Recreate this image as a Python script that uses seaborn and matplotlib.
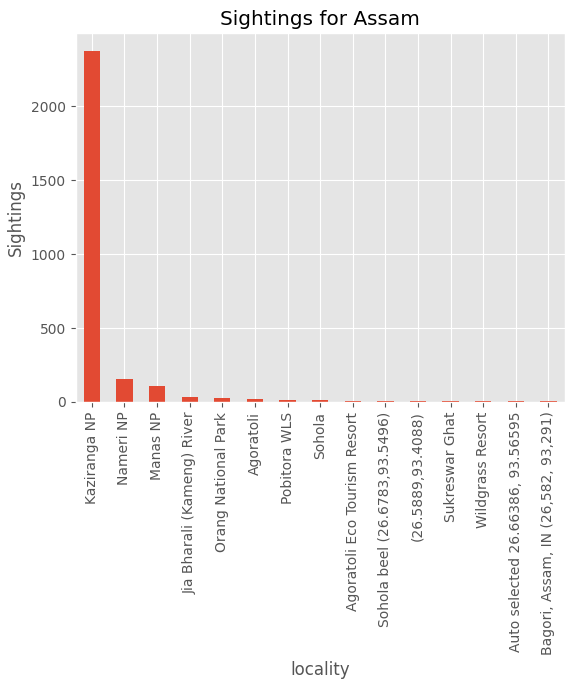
import matplotlib
matplotlib.use("Agg")
import matplotlib.pyplot as plt
import seaborn as sns
import pandas as pd

localities = ["Kaziranga NP", "Nameri NP", "Manas NP", "Jia Bharali (Kameng) River",
              "Orang National Park", "Agoratoli", "Pobitora WLS", "Sohola",
              "Agoratoli Eco Tourism Resort", "Sohola beel (26.6783,93.5496)",
              "(26.5889,93.4088)", "Sukreswar Ghat", "Wildgrass Resort",
              "Auto selected 26.66386, 93.56595", "Bagori, Assam, IN (26,582, 93,291)"]
sightings = [2378, 155, 108, 34, 27, 20, 13, 12, 4, 3, 3, 3, 3, 3, 3]

plt.style.use("ggplot")
df = pd.DataFrame({"locality": localities, "Sightings": sightings})
fig, ax = plt.subplots(figsize=(5.81, 6.87), dpi=100)
sns.barplot(data=df, x="locality", y="Sightings", color="#E24A33", width=0.5, saturation=1, ax=ax)
ax.set_title("Sightings for Assam")
ax.tick_params(axis="x", rotation=90)
ax.set_xlim(-0.5, len(localities) - 0.5)
ax.grid(True, axis="both", color="white")
ax.set_axisbelow(True)
fig.subplots_adjust(left=0.13, right=0.972, top=0.952, bottom=0.415)
fig.savefig("out.png")
